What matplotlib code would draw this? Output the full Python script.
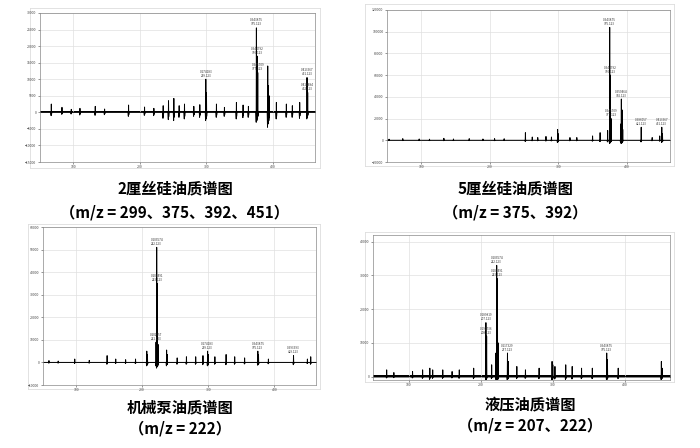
import matplotlib
matplotlib.use("Agg")
import matplotlib.pyplot as plt
import numpy as np

plt.rcParams["font.family"] = ["Noto Sans CJK SC"]

# ---- data: (m/z, intensity) peaks per spectrum ----
mz_a = [67, 83, 97, 110, 133, 147, 183, 207, 221, 235, 243, 251, 259, 267, 281, 290, 299, 300, 315, 327, 345, 355, 363, 375, 376, 377, 392, 393, 394, 405, 420, 429, 440, 451, 452]
in_a = [2500, 1500, 900, 1200, 1800, 1000, 2200, 1600, 1200, 2000, 3500, 4200, 2000, 2500, 1800, 2300, 10000, 6000, 2500, 1500, 3000, 2200, 1800, 25500, 17000, 12000, 14000, 8000, 5000, 3000, 2500, 2000, 3000, 10500, 6000]
neg_a = [-1000, -600, -500, -800, -900, -700, -1200, -900, -1000, -1800, -2200, -2500, -1500, -2000, -1200, -1500, -2500, -2000, -1500, -1200, -2000, -1600, -1500, -3000, -2500, -2000, -4500, -3500, -2500, -2000, -1500, -1500, -1800, -2000, -1500]

mz_b = [53, 73, 97, 112, 133, 147, 170, 190, 207, 221, 252, 262, 270, 282, 290, 299, 300, 317, 327, 350, 361, 372, 375, 376, 377, 391, 392, 393, 394, 421, 437, 448, 451, 452]
in_b = [1000, 1500, 1200, 1000, 1800, 1200, 1500, 1200, 1500, 1400, 7000, 3000, 2500, 3500, 3000, 10000, 6000, 2500, 2500, 4000, 7000, 9000, 104000, 60000, 20000, 15000, 38000, 28000, 10000, 12000, 2500, 4000, 12000, 6000]
neg_b = [-300, -300, -300, -300, -400, -300, -300, -300, -400, -300, -1000, -500, -500, -700, -600, -2000, -1500, -500, -500, -800, -1200, -1500, -3000, -2500, -1500, -1500, -3000, -2500, -1500, -1500, -500, -800, -2000, -1500]

mz_c = [59, 73, 98, 120, 147, 160, 175, 190, 207, 208, 221, 222, 223, 224, 237, 238, 253, 267, 281, 292, 299, 300, 310, 327, 340, 355, 375, 376, 391, 429, 450, 455]
in_c = [800, 600, 1500, 900, 3000, 1500, 1200, 1500, 5000, 3500, 9000, 51000, 35000, 8000, 5500, 3500, 2000, 2500, 2500, 3000, 5000, 3500, 2500, 3500, 2500, 2000, 5000, 3500, 1500, 3000, 1500, 2500]
neg_c = [-300, -300, -400, -300, -800, -500, -400, -500, -1500, -1200, -1500, -2500, -2000, -1500, -1500, -1000, -800, -800, -800, -1000, -1500, -1200, -800, -1000, -800, -700, -1200, -1000, -600, -1000, -500, -800]

mz_d = [69, 79, 105, 119, 129, 133, 147, 160, 170, 190, 207, 208, 215, 221, 222, 223, 224, 237, 238, 250, 262, 281, 299, 300, 303, 318, 327, 340, 355, 375, 376, 391, 451, 452]
in_d = [2000, 1200, 1500, 2000, 2500, 2000, 2000, 1500, 2000, 2500, 16000, 12000, 3500, 7000, 33000, 29000, 10000, 7000, 4500, 3000, 2000, 2500, 4500, 3500, 3000, 3500, 3000, 2500, 2500, 7000, 5000, 2500, 4500, 2500]
neg_d = [-400, -300, -400, -500, -800, -500, -500, -400, -500, -600, -1000, -800, -600, -800, -1200, -1000, -800, -1000, -700, -600, -500, -600, -900, -800, -700, -900, -700, -600, -600, -1000, -800, -600, -900, -600]

titles = ["2厘丝硅油质谱图", "5厘丝硅油质谱图", "机械泵油质谱图", "液压油质谱图"]
subtitles = ["（m/z = 299、375、392、451）", "（m/z = 375、392）", "（m/z = 222）", "（m/z = 207、222）"]
ylims = [(-15000, 30000, 5000), (-20000, 120000, 20000), (-10000, 60000, 10000), (-1000, 42000, 10000)]
xticks = [100, 200, 300, 400]

W, H = 700, 448
fig = plt.figure(figsize=(W / 100, H / 100), dpi=100)

rects = [(40, 13, 315, 162), (387, 10, 670, 162), (43, 227, 316, 385), (373, 235, 670, 380)]
frames = [(30, 8, 320, 168), (365, 4, 674, 166), (28, 224, 320, 389), (365, 232, 674, 382)]
caps = [(175, 188, 212), (515, 188, 212), (180, 407, 428), (530, 405, 425)]
data = [(mz_a, in_a, neg_a), (mz_b, in_b, neg_b), (mz_c, in_c, neg_c), (mz_d, in_d, neg_d)]

for i in range(4):
    fl, ft, fr, fb = frames[i]
    fa = fig.add_axes([fl / W, 1 - fb / H, (fr - fl) / W, (fb - ft) / H])
    fa.set_xticks([]); fa.set_yticks([])
    for s in fa.spines.values():
        s.set_color("#dddddd"); s.set_linewidth(0.6)
    l, t, r, b = rects[i]
    ax = fig.add_axes([l / W, 1 - b / H, (r - l) / W, (b - t) / H])
    mz, inten, neg = data[i]
    xs, ys = [50], [0]
    for m, h, n in zip(mz, inten, neg):
        xs += [m - 0.8, m - 0.3, m, m + 0.3, m + 0.8]
        ys += [0, n, h, n * 0.6, 0]
    xs.append(465); ys.append(0)
    ax.plot(xs, ys, color="black", lw=0.7)
    ax.fill_between([50, 465], [-350, -350], [350, 350], color="black", lw=0)
    lo, hi, st = ylims[i]
    ax.set_xlim(50, 463)
    ax.set_ylim(lo, hi)
    ax.set_yticks(np.arange(0 if lo > -st else lo, hi + 1, st))
    ax.set_xticks(xticks)
    ax.tick_params(labelsize=2.5, length=1.5, width=0.4, colors="#444444", pad=1)
    ax.grid(True, color="#e0e0e0", lw=0.5)
    for s in ax.spines.values():
        s.set_color("#888888"); s.set_linewidth(0.5)
    # peak labels: largest peaks, avoiding overlaps
    order = np.argsort(inten)[::-1]
    placed = []
    span = hi - lo
    for k in order:
        if len(placed) >= 6:
            break
        x, y = mz[k], inten[k]
        if any(abs(x - px) < 30 and abs(y - py) < span * 0.09 for px, py in placed):
            continue
        placed.append((x, y))
        ax.text(x, y + span * 0.01, "0.%06d\n%d.%03d" % (x * 917 % 999999, x, 123),
                fontsize=2.2, ha="center", va="bottom", color="#333333", linespacing=1.0)
    cx, y1, y2 = caps[i]
    fig.text(cx / W, 1 - y1 / H, titles[i], ha="center", va="center", fontsize=11, fontweight="bold")
    fig.text(cx / W, 1 - y2 / H, subtitles[i], ha="center", va="center", fontsize=11, fontweight="bold")

fig.savefig("out.png", dpi=100)
